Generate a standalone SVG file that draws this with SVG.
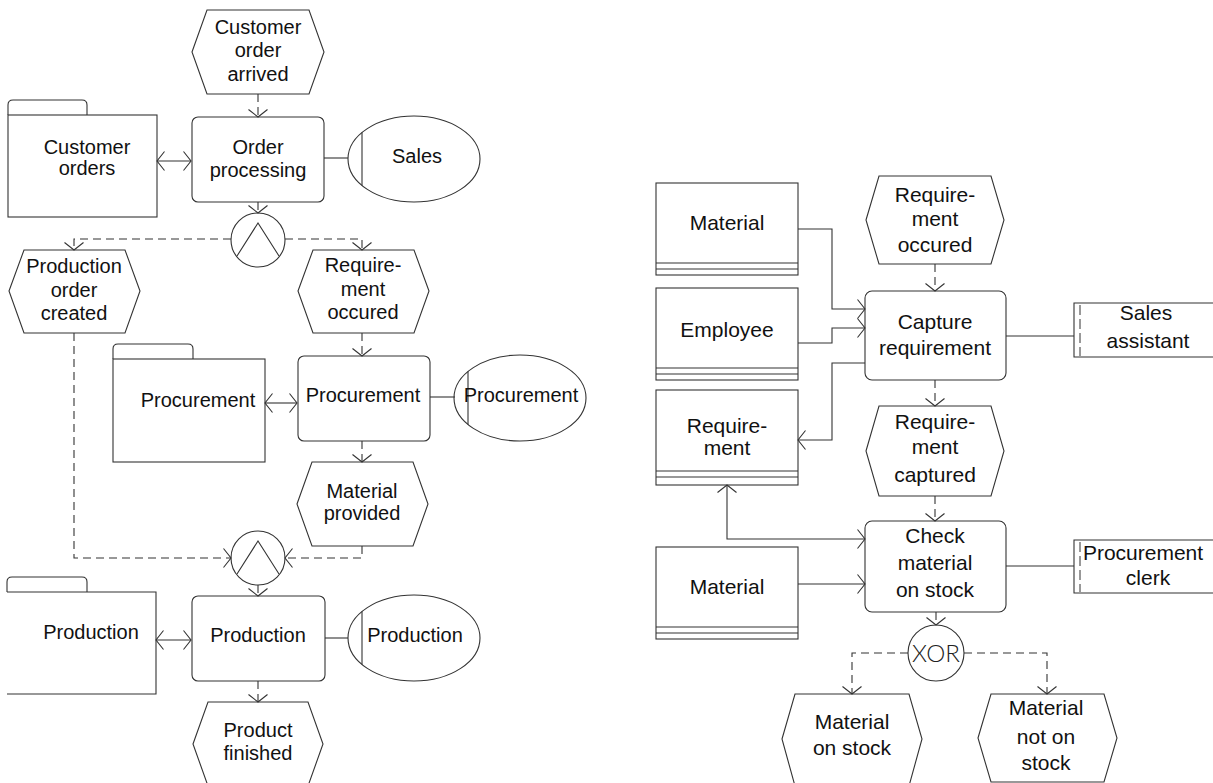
<svg xmlns="http://www.w3.org/2000/svg" width="1213" height="783" viewBox="0 0 1213 783">
  <defs>
    <style>
      .shape { fill: #ffffff; stroke: #333333; stroke-width: 1.1; }
      .line { fill: none; stroke: #333333; stroke-width: 1.1; }
      .flow { fill: none; stroke: #333333; stroke-width: 1.1; stroke-dasharray: 8 5; }
      .dash { fill: none; stroke: #333333; stroke-width: 1; stroke-dasharray: 10 4; }
      .lbl { font-family: "Liberation Sans", Arial, sans-serif; font-size: 20px; fill: #111111; text-anchor: middle; }
      .lbl2 { font-family: "Liberation Sans", Arial, sans-serif; font-size: 21px; fill: #111111; text-anchor: middle; }
      .xor { font-family: Lato, "Open Sans", sans-serif; font-weight: 300; font-size: 24px; fill: #222222; text-anchor: middle; }
    </style>
    <marker id="arrow" viewBox="-9 -11 10 22" refX="0" refY="0" markerWidth="10" markerHeight="22" markerUnits="userSpaceOnUse" orient="auto-start-reverse">
      <path d="M-7.5,-9.5 L0,0 L-7.5,9.5" fill="none" stroke="#333333" stroke-width="1.1"/>
    </marker>
  </defs>
  <rect width="1213" height="783" fill="#ffffff"/>

  <!-- ===== Left process chain ===== -->
  <g id="ev-customer-order-arrived">
    <polygon class="shape" points="192,52 207,10 309,10 324,52 309,94 207,94"/>
    <text class="lbl" x="258" y="34">Customer</text>
    <text class="lbl" x="258" y="57">order</text>
    <text class="lbl" x="258" y="81">arrived</text>
  </g>
  <g id="data-customer-orders">
    <path class="shape" d="M8,115 V105 Q8,100 13,100 H82 Q87,100 87,105 V115"/>
    <rect class="shape" x="8" y="115" width="149" height="102"/>
    <text class="lbl" x="87" y="154">Customer</text>
    <text class="lbl" x="87" y="175">orders</text>
  </g>
  <g id="fn-order-processing">
    <rect class="shape" x="192" y="117" width="132" height="85" rx="6"/>
    <text class="lbl" x="258" y="154">Order</text>
    <text class="lbl" x="258" y="177">processing</text>
  </g>
  <g id="org-sales">
    <ellipse class="shape" cx="414" cy="159" rx="66" ry="43"/>
    <line class="line" x1="362" y1="132.5" x2="362" y2="185.5"/>
    <text class="lbl" x="417" y="163">Sales</text>
  </g>
  <g id="and-split">
    <circle class="shape" cx="258" cy="240" r="27"/>
    <polyline class="line" points="237,256 258,223 279,256"/>
  </g>
  <g id="ev-production-order-created">
    <polygon class="shape" points="9,291 24,250 125,250 140,291 125,333 24,333"/>
    <text class="lbl" x="74" y="273">Production</text>
    <text class="lbl" x="74" y="297">order</text>
    <text class="lbl" x="74" y="320">created</text>
  </g>
  <g id="ev-requirement-occured-left">
    <polygon class="shape" points="298,291 313,250 414,250 429,291 414,333 313,333"/>
    <text class="lbl" x="363" y="272">Require-</text>
    <text class="lbl" x="363" y="296">ment</text>
    <text class="lbl" x="363" y="319">occured</text>
  </g>
  <g id="data-procurement">
    <path class="shape" d="M113,359 V349 Q113,344 118,344 H188 Q193,344 193,349 V359"/>
    <rect class="shape" x="113" y="359" width="152" height="103"/>
    <text class="lbl" x="198" y="407">Procurement</text>
  </g>
  <g id="fn-procurement">
    <rect class="shape" x="298" y="356" width="132" height="85" rx="6"/>
    <text class="lbl" x="363" y="402">Procurement</text>
  </g>
  <g id="org-procurement">
    <ellipse class="shape" cx="520" cy="398" rx="66" ry="43"/>
    <line class="line" x1="468" y1="371.5" x2="468" y2="424.5"/>
    <text class="lbl" x="521" y="402">Procurement</text>
  </g>
  <g id="ev-material-provided">
    <polygon class="shape" points="297,504 312,462 413,462 428,504 413,546 312,546"/>
    <text class="lbl" x="362" y="498">Material</text>
    <text class="lbl" x="362" y="520">provided</text>
  </g>
  <g id="and-join">
    <circle class="shape" cx="258" cy="558" r="27"/>
    <polyline class="line" points="237,574 258,541 279,574"/>
  </g>
  <g id="data-production">
    <path class="shape" d="M7,592 V582 Q7,577 12,577 H82 Q87,577 87,582 V592"/>
    <rect x="7" y="592" width="149" height="102" fill="#ffffff"/>
    <polyline class="line" points="7,592 156,592 156,694 7,694"/>
    <text class="lbl" x="91" y="639">Production</text>
  </g>
  <g id="fn-production">
    <rect class="shape" x="192" y="596" width="133" height="85" rx="6"/>
    <text class="lbl" x="258" y="642">Production</text>
  </g>
  <g id="org-production">
    <ellipse class="shape" cx="414" cy="638" rx="66" ry="43"/>
    <line class="line" x1="362" y1="611.5" x2="362" y2="664.5"/>
    <text class="lbl" x="415" y="642">Production</text>
  </g>
  <g id="ev-product-finished">
    <polygon class="shape" points="193,744 208,702 308,702 323,744 308,786 208,786"/>
    <text class="lbl" x="258" y="737">Product</text>
    <text class="lbl" x="258" y="760">finished</text>
  </g>

  <!-- ===== Right process chain ===== -->
  <g id="obj-material-1">
    <rect class="shape" x="656" y="183" width="142" height="92"/>
    <line class="line" x1="656" y1="263" x2="798" y2="263"/>
    <line class="line" x1="656" y1="269" x2="798" y2="269"/>
    <text class="lbl2" x="727" y="230">Material</text>
  </g>
  <g id="obj-employee">
    <rect class="shape" x="656" y="288" width="142" height="92"/>
    <line class="line" x1="656" y1="368" x2="798" y2="368"/>
    <line class="line" x1="656" y1="374" x2="798" y2="374"/>
    <text class="lbl2" x="727" y="337">Employee</text>
  </g>
  <g id="obj-requirement">
    <rect class="shape" x="656" y="390" width="142" height="95"/>
    <line class="line" x1="656" y1="471" x2="798" y2="471"/>
    <line class="line" x1="656" y1="477" x2="798" y2="477"/>
    <text class="lbl2" x="727" y="433">Require-</text>
    <text class="lbl2" x="727" y="455">ment</text>
  </g>
  <g id="obj-material-2">
    <rect class="shape" x="656" y="547" width="142" height="92"/>
    <line class="line" x1="656" y1="627" x2="798" y2="627"/>
    <line class="line" x1="656" y1="633" x2="798" y2="633"/>
    <text class="lbl2" x="727" y="594">Material</text>
  </g>
  <g id="ev-requirement-occured-right">
    <polygon class="shape" points="866,220 879,176 991,176 1004,220 991,264 879,264"/>
    <text class="lbl2" x="935" y="202">Require-</text>
    <text class="lbl2" x="935" y="226">ment</text>
    <text class="lbl2" x="935" y="252">occured</text>
  </g>
  <g id="fn-capture-requirement">
    <rect class="shape" x="865" y="291" width="141" height="89" rx="7"/>
    <text class="lbl2" x="935" y="329">Capture</text>
    <text class="lbl2" x="935" y="355">requirement</text>
  </g>
  <g id="role-sales-assistant">
    <path class="line" d="M1214,303 H1074 V357 H1214"/>
    <line class="dash" x1="1080" y1="305" x2="1080" y2="356"/>
    <text class="lbl2" x="1146" y="320">Sales</text>
    <text class="lbl2" x="1148" y="348">assistant</text>
  </g>
  <g id="ev-requirement-captured">
    <polygon class="shape" points="866,451 879,406 991,406 1004,451 991,496 879,496"/>
    <text class="lbl2" x="935" y="429">Require-</text>
    <text class="lbl2" x="935" y="454">ment</text>
    <text class="lbl2" x="935" y="482">captured</text>
  </g>
  <g id="fn-check-material">
    <rect class="shape" x="865" y="521" width="141" height="91" rx="7"/>
    <text class="lbl2" x="935" y="543">Check</text>
    <text class="lbl2" x="935" y="570">material</text>
    <text class="lbl2" x="935" y="597">on stock</text>
  </g>
  <g id="role-procurement-clerk">
    <path class="line" d="M1214,540 H1074 V593 H1214"/>
    <line class="dash" x1="1080" y1="542" x2="1080" y2="592"/>
    <text class="lbl2" x="1143" y="560">Procurement</text>
    <text class="lbl2" x="1148" y="585">clerk</text>
  </g>
  <g id="xor-split">
    <circle class="shape" cx="936" cy="653" r="28"/>
    <text class="xor" x="936" y="662" textLength="48" lengthAdjust="spacingAndGlyphs">XOR</text>
  </g>
  <g id="ev-material-on-stock">
    <polygon class="shape" points="782,739 795,694 909,694 922,739 909,786 795,786"/>
    <text class="lbl2" x="852" y="729">Material</text>
    <text class="lbl2" x="852" y="755">on stock</text>
  </g>
  <g id="ev-material-not-on-stock">
    <polygon class="shape" points="978,738 991,694 1104,694 1117,738 1104,782 991,782"/>
    <text class="lbl2" x="1046" y="715">Material</text>
    <text class="lbl2" x="1046" y="744">not on</text>
    <text class="lbl2" x="1046" y="770">stock</text>
  </g>

  <!-- ===== Connectors ===== -->
  <g id="connectors">
    <!-- left chain: control flow -->
    <line class="flow" x1="258" y1="94" x2="258" y2="117" marker-end="url(#arrow)"/>
    <line class="flow" x1="258" y1="202" x2="258" y2="213" marker-end="url(#arrow)"/>
    <polyline class="flow" points="231,239 74,239 74,250" marker-end="url(#arrow)"/>
    <polyline class="flow" points="285,239 362,239 362,250" marker-end="url(#arrow)"/>
    <line class="flow" x1="362" y1="333" x2="362" y2="356" marker-end="url(#arrow)"/>
    <line class="flow" x1="362" y1="441" x2="362" y2="462" marker-end="url(#arrow)"/>
    <polyline class="flow" points="74,333 74,558 231,558" marker-end="url(#arrow)"/>
    <polyline class="flow" points="362,546 362,558 285,558" marker-end="url(#arrow)"/>
    <line class="flow" x1="258" y1="585" x2="258" y2="596" marker-end="url(#arrow)"/>
    <line class="flow" x1="258" y1="681" x2="258" y2="702" marker-end="url(#arrow)"/>
    <!-- left chain: data and organisation links -->
    <line class="line" x1="157" y1="161" x2="191" y2="161" marker-start="url(#arrow)" marker-end="url(#arrow)"/>
    <line class="line" x1="324" y1="158" x2="348" y2="158"/>
    <line class="line" x1="265" y1="403" x2="297" y2="403" marker-start="url(#arrow)" marker-end="url(#arrow)"/>
    <line class="line" x1="430" y1="397" x2="455" y2="397"/>
    <line class="line" x1="156" y1="640" x2="191" y2="640" marker-start="url(#arrow)" marker-end="url(#arrow)"/>
    <line class="line" x1="325" y1="638" x2="348" y2="638"/>

    <!-- right chain: control flow -->
    <line class="flow" x1="935" y1="264" x2="935" y2="291" marker-end="url(#arrow)"/>
    <line class="flow" x1="935" y1="380" x2="935" y2="406" marker-end="url(#arrow)"/>
    <line class="flow" x1="935" y1="496" x2="935" y2="521" marker-end="url(#arrow)"/>
    <line class="flow" x1="936" y1="612" x2="936" y2="625" marker-end="url(#arrow)"/>
    <polyline class="flow" points="908,653 852,653 852,694" marker-end="url(#arrow)"/>
    <polyline class="flow" points="964,653 1047,653 1047,694" marker-end="url(#arrow)"/>
    <!-- right chain: input / output objects -->
    <polyline class="line" points="798,229 832,229 832,309 865,309" marker-end="url(#arrow)"/>
    <polyline class="line" points="798,343 832,343 832,328 865,328" marker-end="url(#arrow)"/>
    <polyline class="line" points="865,363 832,363 832,440 798,440" marker-end="url(#arrow)"/>
    <polyline class="line" points="727,485 727,539 865,539" marker-start="url(#arrow)" marker-end="url(#arrow)"/>
    <line class="line" x1="798" y1="584" x2="865" y2="584" marker-end="url(#arrow)"/>
    <line class="line" x1="1006" y1="336" x2="1074" y2="336"/>
    <line class="line" x1="1006" y1="566" x2="1074" y2="566"/>
  </g>
</svg>
